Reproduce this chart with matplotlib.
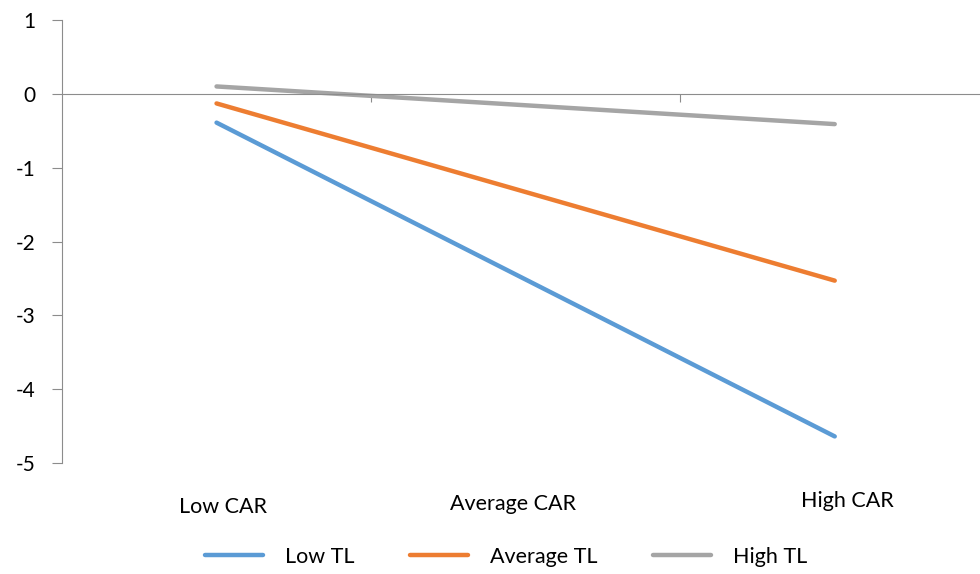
import matplotlib.pyplot as plt
import matplotlib.transforms as mtransforms

# categories on the x axis
categories = ["Low CAR", "Average CAR", "High CAR"]

# simple slopes, measured at low and high CAR
series_names = ["Low TL", "Average TL", "High TL"]
low_tl = [-0.39, -4.64]
average_tl = [-0.13, -2.53]
high_tl = [0.10, -0.41]
slope_x = [0, 2]

colors = ["#5B9BD5", "#ED7D31", "#A5A5A5"]

plt.rcParams["font.family"] = ["Lato", "DejaVu Sans"]
plt.rcParams["font.size"] = 12
plt.rcParams["axes.unicode_minus"] = False

fig = plt.figure(figsize=(9.8, 5.74), dpi=100)
ax = fig.add_axes([62 / 980, 111 / 574, 918 / 980, 443 / 574])

for name, vals, col in zip(series_names, [low_tl, average_tl, high_tl], colors):
    ax.plot(slope_x, vals, color=col, lw=3.2, solid_capstyle="round", label=name)

ax.set_xlim(-0.5, 2.47)
ax.set_ylim(-5, 1)

# Excel-like axes: vertical axis on the left, horizontal axis through zero
axis_col = "#8C8C8C"
for side in ["top", "right"]:
    ax.spines[side].set_visible(False)
ax.spines["left"].set_color(axis_col)
ax.spines["bottom"].set_color(axis_col)
ax.spines["bottom"].set_position(("data", 0))

ax.set_yticks(range(-5, 2))
ax.tick_params(axis="y", direction="out", length=7, color=axis_col, pad=12, labelsize=15)
ax.set_xticks([0.5, 1.5])
ax.set_xticklabels([])
ax.tick_params(axis="x", direction="out", length=6, color=axis_col)

# category labels sit below the plot area
trans = mtransforms.blended_transform_factory(ax.transData, ax.transAxes)
label_y = [-0.1, -0.092, -0.085]
for i, cat in enumerate(categories):
    ax.text(i + [0.02, -0.04, 0.04][i], label_y[i], cat, transform=trans,
            ha="center", va="center", fontsize=15.5)

fig.legend(loc="center", bbox_to_anchor=(506 / 980, 1 - 557 / 574), ncol=3,
           frameon=False, handlelength=2.7, columnspacing=2.6, handletextpad=1.0,
           fontsize=15.5)

fig.savefig("out.png", dpi=100)
